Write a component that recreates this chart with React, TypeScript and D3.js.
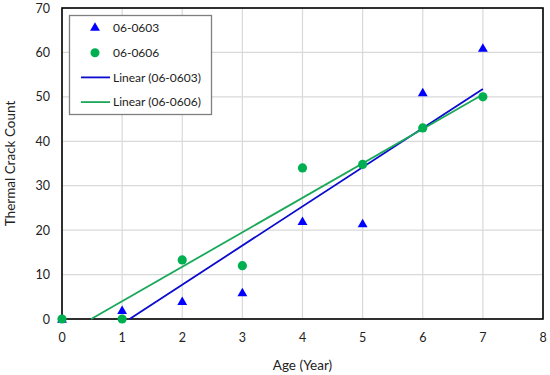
import React from "react";
import * as d3 from "d3";

const ages = [0, 1, 2, 3, 4, 5, 6, 7];
const series0603 = [0, 2, 4, 6, 22, 21.5, 51, 61];
const series0606 = [0, 0, 13.3, 12, 34, 34.8, 43, 50];
const xTicks = [0, 1, 2, 3, 4, 5, 6, 7, 8];
const yTicks = [0, 10, 20, 30, 40, 50, 60, 70];
const legendLabels = ["06-0603", "06-0606", "Linear (06-0603)", "Linear (06-0606)"];

const W = 550, H = 375;
const M = { left: 62, right: 543, top: 8, bottom: 319 };
const FONT = "Lato, 'Open Sans', sans-serif";
const BLUE = "#0000ff";
const BLUE_LINE = "#0a0ad0";
const GREEN = "#00b050";
const GREEN_LINE = "#1aa85a";

function fit(xs: number[], ys: number[]) {
  const mx = d3.mean(xs)!;
  const my = d3.mean(ys)!;
  let sxy = 0, sxx = 0;
  xs.forEach((x, i) => { sxy += (x - mx) * (ys[i] - my); sxx += (x - mx) * (x - mx); });
  const b = sxy / sxx;
  return { b, a: my - b * mx };
}

export default function App() {
  const x = d3.scaleLinear().domain([0, 8]).range([M.left, M.right]);
  const y = d3.scaleLinear().domain([0, 70]).range([M.bottom, M.top]);

  const trend = (ys: number[]) => {
    const { a, b } = fit(ages, ys);
    const x0 = Math.max(0, -a / b);
    const x1 = 7;
    return d3.line<number>().x((d) => x(d)).y((d) => y(a + b * d))([x0, x1]) as string;
  };

  const tri = d3.symbol().type(d3.symbolTriangle).size(42)() as string;

  return (
    <svg width={W} height={H} style={{ position: "absolute", left: 0, top: 0, background: "#fff" }} fontFamily={FONT}>
      <rect x={0} y={0} width={W} height={H} fill="#fff" />
      {xTicks.map((t) => (
        <line key={"gx" + t} x1={x(t)} x2={x(t)} y1={M.top} y2={M.bottom} stroke="#d9d9d9" strokeWidth={1.2} />
      ))}
      {yTicks.map((t) => (
        <line key={"gy" + t} x1={M.left} x2={M.right} y1={y(t)} y2={y(t)} stroke="#d9d9d9" strokeWidth={1.2} />
      ))}
      <rect x={M.left} y={M.top} width={M.right - M.left} height={M.bottom - M.top} fill="none" stroke="#000" strokeWidth={1.6} />
      {xTicks.map((t) => (
        <text key={"tx" + t} x={x(t)} y={342} textAnchor="middle" fontSize={12.5} fill="#222">{t}</text>
      ))}
      {yTicks.map((t) => (
        <text key={"ty" + t} x={50} y={y(t) + 4.5} textAnchor="end" fontSize={12.5} fill="#222">{t}</text>
      ))}
      <text x={(M.left + M.right) / 2} y={370} textAnchor="middle" fontSize={13.5} fill="#222">Age (Year)</text>
      <text transform={`translate(15,${(M.top + M.bottom) / 2}) rotate(-90)`} textAnchor="middle" fontSize={13.5} fill="#222">Thermal Crack Count</text>

      <path d={trend(series0603)} stroke={BLUE_LINE} strokeWidth={1.8} fill="none" />
      <path d={trend(series0606)} stroke={GREEN_LINE} strokeWidth={1.8} fill="none" />

      {ages.map((a, i) => (
        <path key={"t" + i} d={tri} transform={`translate(${x(a)},${y(series0603[i]) + 1})`} fill={BLUE} />
      ))}
      {ages.map((a, i) => (
        <circle key={"c" + i} cx={x(a)} cy={y(series0606[i])} r={4.6} fill={GREEN} />
      ))}

      <rect x={69.5} y={15.5} width={142} height={99} fill="#fff" stroke="#7f7f7f" strokeWidth={1.3} />
      {legendLabels.map((lab, i) => {
        const ly = 28 + i * 24.7;
        return (
          <g key={lab}>
            {i === 0 && <path d={tri} transform={`translate(95,${ly})`} fill={BLUE} />}
            {i === 1 && <circle cx={95} cy={ly} r={4.5} fill={GREEN} />}
            {i === 2 && <line x1={81} x2={110} y1={ly} y2={ly} stroke={BLUE_LINE} strokeWidth={1.8} />}
            {i === 3 && <line x1={81} x2={110} y1={ly} y2={ly} stroke={GREEN_LINE} strokeWidth={1.8} />}
            <text x={113} y={ly + 4.3} fontSize={12} fill="#222">{lab}</text>
          </g>
        );
      })}
    </svg>
  );
}
